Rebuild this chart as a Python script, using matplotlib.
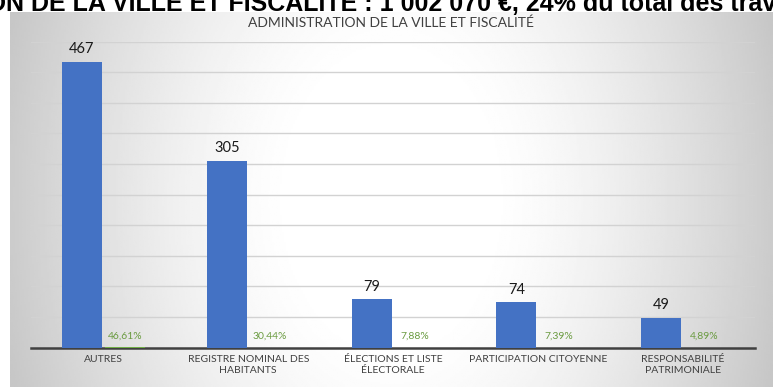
import numpy as np
import matplotlib
matplotlib.use("Agg")
import matplotlib.pyplot as plt

# Données : nombre de demandes par catégorie et part en %
categories = ["AUTRES", "REGISTRE NOMINAL DES\nHABITANTS", "ÉLECTIONS ET LISTE\nÉLECTORALE",
              "PARTICIPATION CITOYENNE", "RESPONSABILITÉ\nPATRIMONIALE"]
valeurs = [467, 305, 79, 74, 49]
pourcentages = ["46,61%", "30,44%", "7,88%", "7,39%", "4,89%"]
parts = [0.4661, 0.3044, 0.0788, 0.0739, 0.0489]

plt.rcParams['font.family'] = ['Lato', 'DejaVu Sans']

fig = plt.figure(figsize=(7.73, 3.87), dpi=100)
W, H = 773, 387

# fond dégradé gris -> blanc -> gris
bg = fig.add_axes([10 / W, 0, (W - 10) / W, (H - 12) / H])
xx = np.linspace(-1, 1, 400)
yy = np.linspace(-1, 1, 200)
X, Y = np.meshgrid(xx, yy)
d = np.sqrt((X * 1.0) ** 2 + (Y * 0.35) ** 2)
grad = 1.0 - 0.22 * np.clip((d - 0.25) / 0.8, 0, 1) ** 1.4
bg.imshow(grad, cmap='gray', vmin=0, vmax=1, aspect='auto', extent=[0, 1, 0, 1])
bg.axis('off')

# titre du haut (coupé par le bord)
fig.text(-0.246, 1.0 - 11 / H, "ADMINISTRATION DE LA VILLE ET FISCALITÉ : 1 002 070 €, 24% du total des travaux",
         family=['Liberation Sans', 'DejaVu Sans'], fontweight='bold', fontsize=18,
         color='black', ha='left', va='baseline')

ax = fig.add_axes([31 / W, (H - 347.7) / H, 724 / W, (347.7 - 41.6) / H])
ax.patch.set_alpha(0)
x = np.arange(len(categories))
largeur = 0.276
decal = 0.148

barres = ax.bar(x - decal, valeurs, width=largeur, color='#4472C4', zorder=3)
ax.bar(x + decal, parts, width=largeur, color='#70AD47', zorder=3)

for xi, v in zip(x, valeurs):
    ax.annotate(str(v), (xi - decal, v), xytext=(0, 4), textcoords='offset points',
                ha='center', va='bottom', fontsize=10.5, color='#1a1a1a', zorder=4)
for xi, p in zip(x, pourcentages):
    ax.annotate(p, (xi + decal, 0), xytext=(0, 5), textcoords='offset points',
                ha='center', va='bottom', fontsize=7.5, color='#6a9b40', zorder=4)

ax.set_xlim(-0.5, len(categories) - 0.5)
ax.set_ylim(0, 500)
ax.set_yticks(np.arange(50, 501, 50))
ax.yaxis.grid(True, color='#d2d2d2', linewidth=1.0, zorder=0)
ax.tick_params(axis='y', length=0, labelleft=False)
ax.tick_params(axis='x', length=0, pad=5)
ax.set_xticks(x)
ax.set_xticklabels(categories, fontsize=7.5, color='#404040', linespacing=1.35)
for s in ['top', 'right', 'left']:
    ax.spines[s].set_visible(False)
ax.spines['bottom'].set_color('#404040')
ax.spines['bottom'].set_linewidth(1.8)

fig.text(391 / W, 1 - 23 / H, "ADMINISTRATION DE LA VILLE ET FISCALITÉ", ha='center', va='center',
         fontsize=10, color='#404040')

fig.savefig("out.png", dpi=100)
